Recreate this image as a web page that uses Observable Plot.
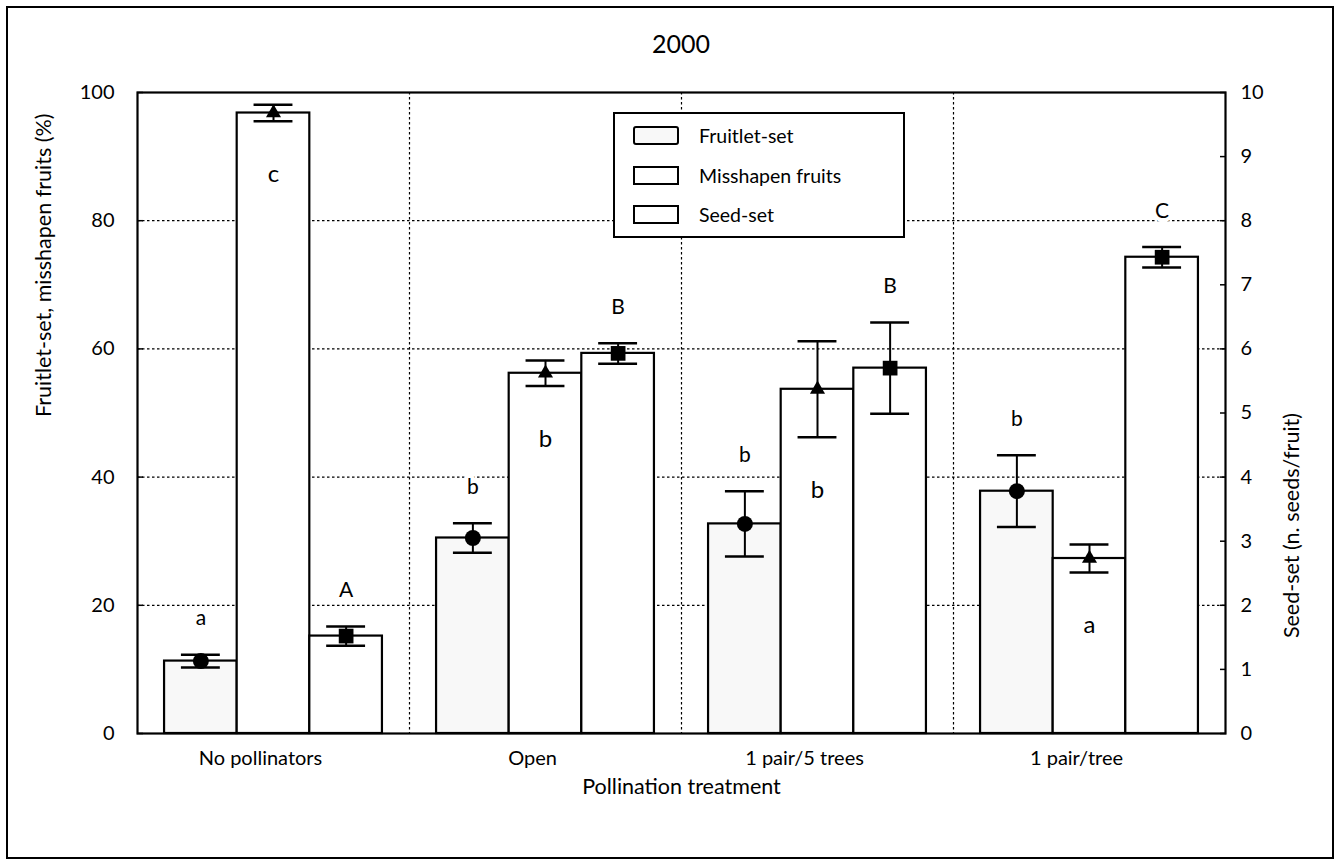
<!DOCTYPE html>
<html>
<head>
<meta charset="utf-8">
<script src="https://cdn.jsdelivr.net/npm/d3@7"></script>
<script src="https://cdn.jsdelivr.net/npm/@observablehq/plot@0.6"></script>
<style>
  html, body { margin: 0; padding: 0; background: #fff; }
  #wrap { position: relative; width: 1338px; height: 863px; font-family: Lato, "Open Sans", sans-serif; color: #000; }
  #border { position: absolute; left: 6px; top: 6px; width: 1328px; height: 853px; border: 2px solid #000; box-sizing: border-box; pointer-events: none; }
  #title { position: absolute; left: 137px; width: 1088px; top: 28px; text-align: center; font-size: 25px; }
  #legend { position: absolute; left: 613px; top: 112px; width: 292px; height: 126px; border: 2px solid #000; background: #fff; box-sizing: border-box; }
  .item { position: absolute; left: 18px; height: 22px; display: flex; align-items: center; font-size: 19.5px; }
  .sw { width: 46px; height: 19px; border: 2px solid #000; box-sizing: border-box; margin-right: 20px; background: #fff; }
  .sw.f { background: #f8f8f8; border-radius: 3px; border-width: 2.5px; }
  svg { position: absolute; left: 0; top: 0; }
</style>
</head>
<body>
<div id="wrap"></div>
<script>
const treatments = ["No pollinators", "Open", "1 pair/5 trees", "1 pair/tree"];
const seriesNames = ["Fruitlet-set", "Misshapen fruits", "Seed-set"];
// left axis (%)
const fruitletSet = [11.3, 30.5, 32.7, 37.8];
const fruitletErr = [1.0, 2.3, 5.1, 5.6];
const misshapen = [96.8, 56.2, 53.7, 27.3];
const misshapenErr = [1.3, 2.0, 7.5, 2.2];
// right axis (n. seeds/fruit)
const seedSet = [1.52, 5.93, 5.70, 7.43];
const seedErr = [0.15, 0.16, 0.71, 0.16];
const fruitletLetters = ["a", "b", "b", "b"];
const misshapenLetters = ["c", "b", "b", "a"];
const seedLetters = ["A", "B", "B", "C"];
const leftTicks = [0, 20, 40, 60, 80, 100];
const rightTicks = [0, 1, 2, 3, 4, 5, 6, 7, 8, 9, 10];

const barW = 0.267;
const pad = (1 - 3 * barW) / 2;
const capW = 0.143;

const rows = [];
treatments.forEach((t, i) => {
  const vals = [fruitletSet[i], misshapen[i], seedSet[i] * 10];
  const errs = [fruitletErr[i], misshapenErr[i], seedErr[i] * 10];
  const lets = [fruitletLetters[i], misshapenLetters[i], seedLetters[i]];
  seriesNames.forEach((s, j) => {
    const x1 = i + pad + j * barW;
    rows.push({treatment: t, series: s, j, x1, x2: x1 + barW, cx: x1 + barW / 2,
      value: vals[j], err: errs[j], lo: vals[j] - errs[j], hi: vals[j] + errs[j], letter: lets[j]});
  });
});

const font = "Lato, 'Open Sans', sans-serif";
const dotted = {stroke: "#000", strokeWidth: 1.2, strokeDasharray: "2.5,2.5"};

const chart = Plot.plot({
  width: 1338, height: 863,
  marginLeft: 137, marginRight: 113, marginTop: 92, marginBottom: 130,
  style: {fontFamily: font, fontSize: "20px", color: "#000", background: "transparent"},
  x: {type: "linear", domain: [0, 4]},
  y: {domain: [0, 100]},
  marks: [
    Plot.ruleY([20, 40, 60, 80], dotted),
    Plot.ruleX([1, 2, 3], dotted),
    Plot.rect(rows, {x1: "x1", x2: "x2", y1: 0, y2: "value",
      fill: d => d.j === 0 ? "#f8f8f8" : "#fff", stroke: "#000", strokeWidth: 2.2}),
    Plot.ruleX(rows, {x: "cx", y1: "lo", y2: "hi", stroke: "#000", strokeWidth: 2}),
    Plot.ruleY(rows, {x1: d => d.cx - capW / 2, x2: d => d.cx + capW / 2, y: "hi", stroke: "#000", strokeWidth: 2.5}),
    Plot.ruleY(rows, {x1: d => d.cx - capW / 2, x2: d => d.cx + capW / 2, y: "lo", stroke: "#000", strokeWidth: 2.5}),
    Plot.dot(rows.filter(d => d.j === 0), {x: "cx", y: "value", r: 8, symbol: "circle", fill: "#000"}),
    Plot.dot(rows.filter(d => d.j === 1), {x: "cx", y: "value", r: 5.6, symbol: "triangle", fill: "#000"}),
    Plot.dot(rows.filter(d => d.j === 2), {x: "cx", y: "value", r: 8.3, symbol: "square", fill: "#000"}),
    Plot.text(rows.filter(d => d.j !== 1), {x: "cx", y: "hi", text: "letter", dy: -36,
      fontSize: 21, fill: "#000", stroke: "#fff", strokeWidth: 8, paintOrder: "stroke"}),
    Plot.text(rows.filter(d => d.j === 1), {x: "cx", y: "lo", text: "letter", dy: 53,
      fontSize: 24, fill: "#000"}),
    Plot.frame({stroke: "#000", strokeWidth: 2.2}),
    Plot.axisY(leftTicks, {anchor: "left", tickSize: -6, tickPadding: 29, strokeWidth: 1.5, fontSize: 20, label: null}),
    Plot.axisY(rightTicks.map(d => d * 10), {anchor: "right", tickSize: -6, tickPadding: 21, strokeWidth: 1.5,
      fontSize: 20, tickFormat: d => d / 10, label: null}),
    Plot.axisX(treatments.map((t, i) => i + 0.5), {anchor: "bottom", tickSize: 0, tickPadding: 17, dx: -13,
      tickFormat: d => treatments[Math.floor(d)], fontSize: 20, label: null}),
    Plot.text(["Fruitlet-set, misshapen fruits (%)"], {frameAnchor: "left", dx: -93, dy: 4, rotate: -90, fontSize: 21.5, fill: "#000"}),
    Plot.text(["Seed-set (n. seeds/fruit)"], {frameAnchor: "right", dx: 67, rotate: -90, fontSize: 21.5, fill: "#000"}),
    Plot.text(["Pollination treatment"], {frameAnchor: "bottom", dy: 60, fontSize: 21.5, fill: "#000"})
  ]
});

const wrap = document.getElementById("wrap");
wrap.appendChild(chart);
const title = document.createElement("div");
title.id = "title"; title.textContent = "2000";
wrap.appendChild(title);
const legend = document.createElement("div");
legend.id = "legend";
const tops = [10, 50, 89];
seriesNames.forEach((s, j) => {
  const it = document.createElement("div");
  it.className = "item"; it.style.top = tops[j] + "px";
  const sw = document.createElement("div");
  sw.className = "sw" + (j === 0 ? " f" : "");
  const lab = document.createElement("span"); lab.textContent = s;
  it.appendChild(sw); it.appendChild(lab);
  legend.appendChild(it);
});
wrap.appendChild(legend);
const border = document.createElement("div");
border.id = "border";
wrap.appendChild(border);
</script>
</body>
</html>
